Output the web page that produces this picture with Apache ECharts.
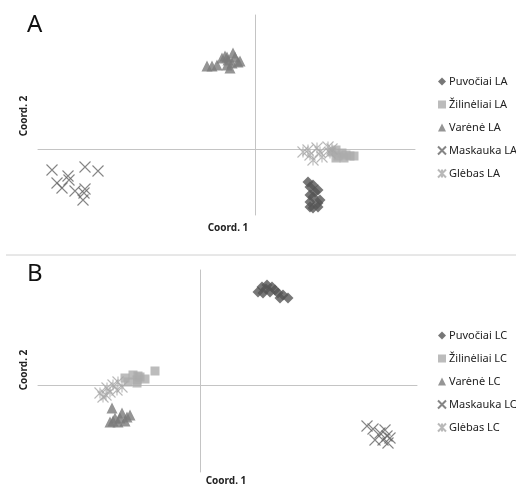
<!DOCTYPE html>
<html>
<head>
<meta charset="utf-8">
<script src="https://cdn.jsdelivr.net/npm/echarts@6/dist/echarts.min.js"></script>
<style>
  html, body { margin: 0; padding: 0; background: #fff; }
  #chart { width: 516px; height: 485px; }
</style>
</head>
<body>
<div id="chart"></div>
<script>
// panel A (LA) - coordinates [Coord. 1, Coord. 2]
var puvociaiA = [[0.53,-0.33],[0.58,-0.36],[0.63,-0.41],[0.55,-0.38],[0.60,-0.43],[0.58,-0.48],[0.55,-0.46],[0.65,-0.51],[0.55,-0.53],[0.63,-0.54],[0.58,-0.59],[0.55,-0.58],[0.63,-0.58]];
var zilineliaiA = [[0.77,-0.03],[0.81,-0.01],[0.83,-0.07],[0.87,-0.04],[0.91,-0.06],[0.95,-0.07],[0.99,-0.07],[0.89,-0.09],[0.81,-0.09]];
var vareneA = [[-0.48,0.83],[-0.43,0.83],[-0.38,0.84],[-0.33,0.91],[-0.30,0.93],[-0.27,0.89],[-0.28,0.92],[-0.22,0.96],[-0.20,0.92],[-0.23,0.86],[-0.17,0.87],[-0.15,0.88],[-0.25,0.81],[-0.28,0.84]];
var maskaukaA = [[-2.03,-0.21],[-1.87,-0.27],[-1.70,-0.18],[-1.57,-0.22],[-1.98,-0.34],[-1.93,-0.39],[-1.86,-0.31],[-1.80,-0.42],[-1.71,-0.44],[-1.70,-0.40],[-1.72,-0.51]];
var glebasA = [[0.48,-0.03],[0.53,-0.01],[0.55,-0.06],[0.58,-0.11],[0.62,0.01],[0.65,-0.03],[0.67,-0.08],[0.73,0.02],[0.75,-0.04],[0.77,0.00]];

// panel B (LC)
var puvociaiB = [[0.58,0.93],[0.62,0.98],[0.67,1.00],[0.72,0.98],[0.75,0.95],[0.78,0.92],[0.83,0.90],[0.88,0.87],[0.63,0.92],[0.70,0.93],[0.80,0.87],[0.66,0.96]];
var zilineliaiB = [[-0.75,0.07],[-0.72,0.03],[-0.67,0.10],[-0.63,0.05],[-0.62,0.09],[-0.60,0.08],[-0.55,0.06],[-0.63,0.02],[-0.45,0.14]];
var vareneB = [[-0.88,-0.23],[-0.90,-0.37],[-0.87,-0.36],[-0.85,-0.33],[-0.78,-0.28],[-0.73,-0.32],[-0.70,-0.30],[-0.82,-0.37],[-0.75,-0.36],[-0.80,-0.33]];
var maskaukaB = [[1.67,-0.41],[1.73,-0.44],[1.80,-0.48],[1.87,-0.51],[1.75,-0.55],[1.83,-0.55],[1.88,-0.58],[1.85,-0.45],[1.90,-0.53]];
var glebasB = [[-1.00,-0.08],[-0.97,-0.12],[-0.93,-0.03],[-0.90,-0.07],[-0.87,0.00],[-0.83,-0.05],[-0.82,0.03],[-0.78,-0.02],[-0.94,-0.10]];

var namesA = ["Puvočiai LA", "Žilinėliai LA", "Varėnė LA", "Maskauka LA", "Glėbas LA"];
var namesB = ["Puvočiai LC", "Žilinėliai LC", "Varėnė LC", "Maskauka LC", "Glėbas LC"];

var crossPath = "path://M0,0L10,10M10,0L0,10";
var starPath = "path://M0,0L10,10M10,0L0,10M5,0L5,10";

// style per group: symbol, size, fill, stroke
var styles = [
  { symbol: "diamond", size: 11, color: "#555555" },
  { symbol: "rect", size: 9, color: "#ababab" },
  { symbol: "triangle", size: 11, color: "#7b7b7b" },
  { symbol: crossPath, size: 11, stroke: "#666666" },
  { symbol: starPath, size: 11, stroke: "#a8a8a8" }
];

function makeAxis(grid, min, max) {
  return {
    type: "value", gridIndex: grid, min: min, max: max,
    axisLine: { show: true, onZero: true, lineStyle: { color: "#c4c4c4", width: 1 } },
    axisTick: { show: false }, axisLabel: { show: false }, splitLine: { show: false }
  };
}

function makeSeries(name, data, st, idx) {
  var s = {
    name: name, type: "scatter", xAxisIndex: idx, yAxisIndex: idx,
    symbol: st.symbol, symbolSize: st.size, data: data, z: 3
  };
  if (st.stroke) {
    s.itemStyle = { color: "rgba(0,0,0,0)", borderColor: st.stroke, borderWidth: 1.1 };
  } else {
    s.itemStyle = { color: st.color };
  }
  return s;
}

var seriesA = [puvociaiA, zilineliaiA, vareneA, maskaukaA, glebasA];
var seriesB = [puvociaiB, zilineliaiB, vareneB, maskaukaB, glebasB];
var series = [];
for (var i = 0; i < 5; i++) series.push(makeSeries(namesA[i], seriesA[i], styles[i], 0));
for (var j = 0; j < 5; j++) series.push(makeSeries(namesB[j], seriesB[j], styles[j], 1));

var legendBase = {
  orient: "vertical", left: 432, itemWidth: 8, itemHeight: 8, itemGap: 12,
  selectedMode: false,
  textStyle: { fontFamily: "Noto Sans", fontSize: 11, color: "#222", padding: [0, 0, 0, -2] }
};

var labelFont = "bold 10px 'Noto Sans'";

var option = {
  animation: false,
  backgroundColor: "#fff",
  grid: [
    { left: 38, top: 15, width: 377, height: 200 },
    { left: 38, top: 270, width: 379, height: 202 }
  ],
  xAxis: [makeAxis(0, -2.17, 1.60), makeAxis(1, -1.62, 2.17)],
  yAxis: [makeAxis(0, -0.66, 1.34), makeAxis(1, -0.87, 1.15)],
  legend: [
    Object.assign({}, legendBase, { top: 71, data: namesA }),
    Object.assign({}, legendBase, { top: 325, data: namesB })
  ],
  graphic: [
    { type: "text", left: 27, top: 13, style: { text: "A", font: "24px 'Noto Sans'", fill: "#111" } },
    { type: "text", left: 27, top: 262, style: { text: "B", font: "24px 'Noto Sans'", fill: "#111" } },
    { type: "text", x: 24, y: 116, rotation: Math.PI / 2, style: { text: "Coord. 2", font: labelFont, fill: "#222", align: "center", verticalAlign: "middle" } },
    { type: "text", x: 24, y: 370, rotation: Math.PI / 2, style: { text: "Coord. 2", font: labelFont, fill: "#222", align: "center", verticalAlign: "middle" } },
    { type: "text", x: 228, y: 228, style: { text: "Coord. 1", font: labelFont, fill: "#222", align: "center", verticalAlign: "middle" } },
    { type: "text", x: 226, y: 481, style: { text: "Coord. 1", font: labelFont, fill: "#222", align: "center", verticalAlign: "middle" } },
    { type: "line", shape: { x1: 6, y1: 255, x2: 516, y2: 255 }, style: { stroke: "#d0d0d0", lineWidth: 1 } }
  ],
  series: series
};

var chart = echarts.init(document.getElementById("chart"));
chart.setOption(option);
</script>
</body>
</html>
